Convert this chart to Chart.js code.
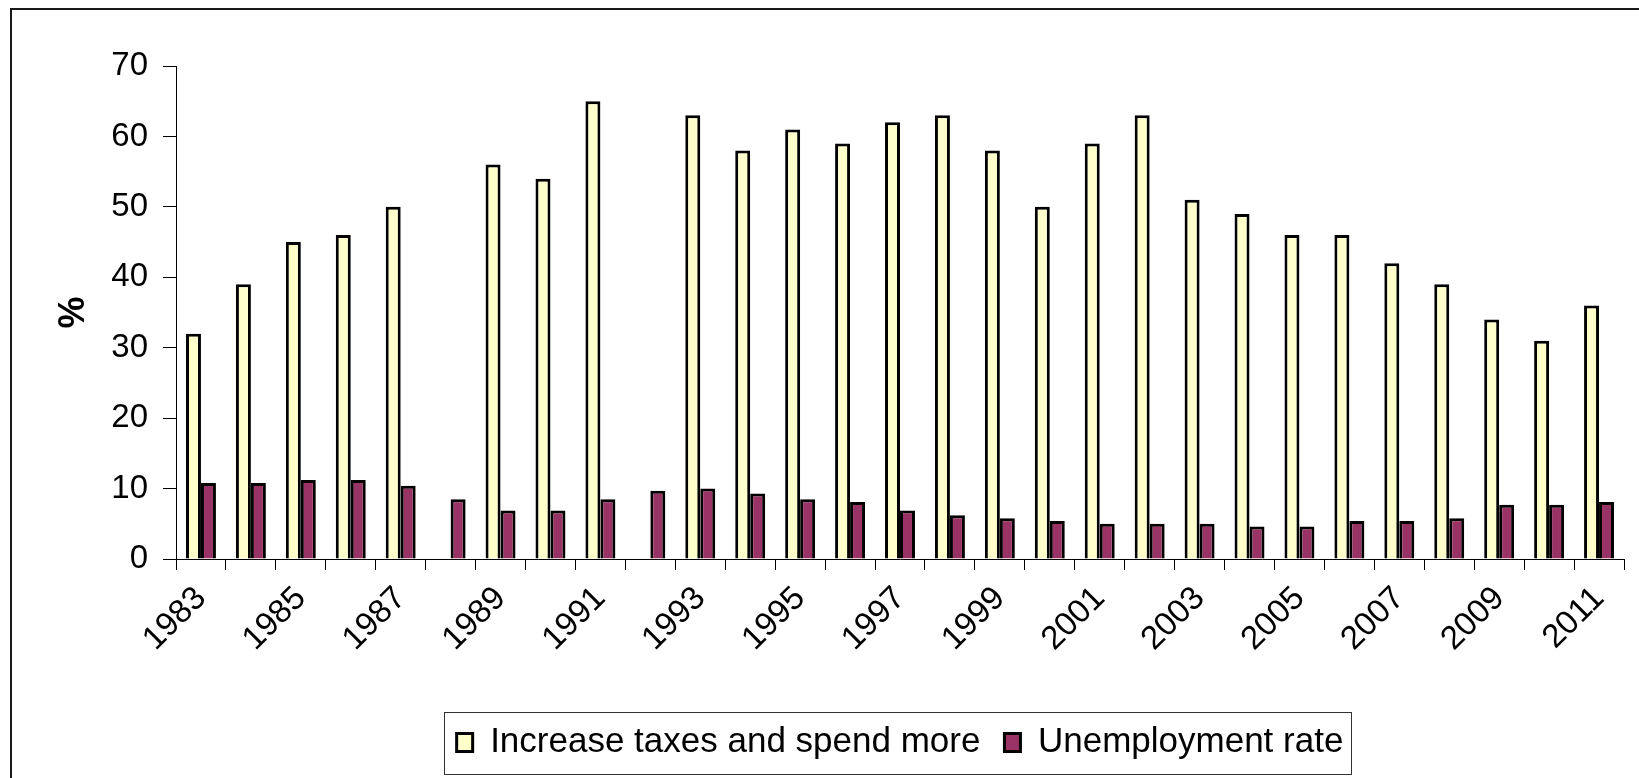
<!DOCTYPE html>
<html>
<head>
<meta charset="utf-8">
<script src="https://cdn.jsdelivr.net/npm/chart.js@4/dist/chart.umd.min.js"></script>
<style>
html, body { margin: 0; padding: 0; background: #fff; overflow: hidden; }
</style>
</head>
<body>
<canvas id="chart1" width="1639" height="778"></canvas>
<script>
var years = [1983, 1984, 1985, 1986, 1987, 1988, 1989, 1990, 1991, 1992,
             1993, 1994, 1995, 1996, 1997, 1998, 1999, 2000, 2001, 2002,
             2003, 2004, 2005, 2006, 2007, 2008, 2009, 2010, 2011];
var taxes = [32, 39, 45, 46, 50, null, 56, 54, 65, null,
             63, 58, 61, 59, 62, 63, 58, 50, 59, 63,
             51, 49, 46, 46, 42, 39, 34, 31, 36];
var unemployment = [10.8, 10.8, 11.2, 11.2, 10.4, 8.5, 6.9, 6.9, 8.5, 9.7,
                    10.0, 9.3, 8.5, 8.1, 6.9, 6.2, 5.8, 5.4, 5.0, 5.0,
                    5.0, 4.6, 4.6, 5.4, 5.4, 5.8, 7.7, 7.7, 8.1];
var yTicks = [0, 10, 20, 30, 40, 50, 60, 70];

Chart.defaults.font.family = "'Liberation Sans', Arial, sans-serif";
Chart.defaults.color = '#000';

// outer frame + box round the legend
var frames = {
    id: 'frames',
    afterDraw: function(chart){
        var ctx = chart.ctx;
        ctx.save();
        ctx.strokeStyle = '#1a1a1a';
        ctx.lineWidth = 2;
        ctx.beginPath();
        ctx.moveTo(11, chart.height);
        ctx.lineTo(11, 9);
        ctx.lineTo(chart.width, 9);
        ctx.stroke();

        var hb = chart.legend.legendHitBoxes;
        if (hb && hb.length){
            var first = hb[0], last = hb[hb.length - 1];
            var cy = first.top + first.height / 2;
            var x1 = Math.round(first.left - 13) + 0.5;
            var x2 = Math.round(last.left + last.width + 8) + 0.5;
            ctx.lineWidth = 1;
            ctx.strokeStyle = '#333';
            ctx.strokeRect(x1, Math.round(cy - 31) + 0.5, x2 - x1, 62);
        }
        ctx.restore();
    }
};

var ctx = document.getElementById("chart1").getContext('2d');
var chart = new Chart(ctx, {
    type: 'bar',
    data: {
        labels: years,
        datasets: [{
            label: 'Increase taxes and spend more',
            data: taxes,
            backgroundColor: '#FFFFCC',
            borderColor: '#000',
            borderWidth: 3,
            categoryPercentage: 0.6,
            barPercentage: 1.0
        }, {
            label: 'Unemployment rate',
            data: unemployment,
            backgroundColor: '#993366',
            borderColor: '#000',
            borderWidth: 3,
            categoryPercentage: 0.6,
            barPercentage: 1.0
        }]
    },
    options: {
        responsive: false,
        animation: false,
        layout: {
            padding: { left: 0, right: 15, top: 66, bottom: 8 }
        },
        plugins: {
            tooltip: { enabled: false },
            legend: {
                position: 'bottom',
                fullSize: false,
                labels: {
                    font: { size: 35 },
                    boxWidth: 16,
                    boxHeight: 18,
                    padding: 24,
                    color: '#000'
                }
            }
        },
        scales: {
            x: {
                grid: {
                    display: true,
                    drawOnChartArea: false,
                    drawTicks: true,
                    tickLength: 11,
                    color: '#000',
                    offset: true
                },
                border: { display: true, color: '#000', width: 1 },
                ticks: {
                    autoSkip: false,
                    minRotation: 45,
                    maxRotation: 45,
                    padding: 9,
                    font: { size: 33 },
                    color: '#000',
                    callback: function(v, i){ return i % 2 === 0 ? String(years[i]) : ''; }
                },
                afterFit: function(scale){ scale.height = 142; }
            },
            y: {
                min: 0,
                max: 70,
                grid: {
                    display: true,
                    drawOnChartArea: false,
                    drawTicks: true,
                    tickLength: 13,
                    color: '#000'
                },
                border: { display: true, color: '#000', width: 1 },
                ticks: {
                    stepSize: 10,
                    padding: 15,
                    font: { size: 33 },
                    color: '#000'
                },
                afterBuildTicks: function(scale){
                    scale.ticks = yTicks.map(function(v){ return { value: v }; });
                },
                title: {
                    display: true,
                    text: '%',
                    font: { size: 36, weight: 'bold' },
                    color: '#000',
                    padding: { top: 52, bottom: 0 }
                },
                afterFit: function(scale){ scale.width = 176; }
            }
        }
    },
    plugins: [frames]
});
</script>
</body>
</html>
